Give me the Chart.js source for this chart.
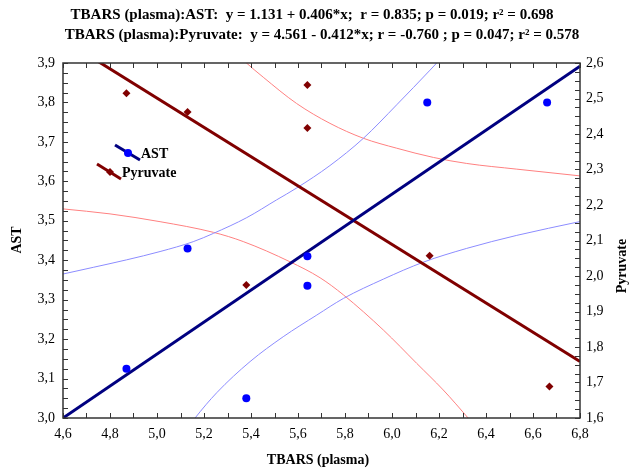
<!DOCTYPE html>
<html>
<head>
<meta charset="utf-8">
<script src="https://cdn.jsdelivr.net/npm/chart.js@4"></script>
<style>
  body { margin: 0; background: #fff; }
  #wrap { width: 632px; height: 471px; }
</style>
</head>
<body>
<div id="wrap"><canvas id="chart" width="632" height="471"></canvas></div>
<script>
// measured points
const tbars = [4.87, 5.13, 5.38, 5.64, 5.64, 6.15, 6.66];
const ast = [3.125, 3.43, 3.05, 3.41, 3.335, 3.80, 3.80];
const tbarsPyr = [4.87, 5.13, 5.38, 5.64, 5.64, 6.16, 6.67];
const pyruvate = [2.515, 2.462, 1.975, 2.538, 2.417, 2.057, 1.689];

// fitted lines (end points)
const fitX = [4.6, 6.8];
const astFit = [3.0, 3.892];
const pyrFit = [2.666, 1.759];

// 95% bands
const astUpX = [4.6, 4.729, 4.871, 5.013, 5.154, 5.24, 5.382, 5.509, 5.594, 5.736, 5.878, 6.02, 6.162, 6.3];
const astUpY = [3.365, 3.382, 3.401, 3.422, 3.447, 3.468, 3.508, 3.553, 3.583, 3.64, 3.709, 3.794, 3.882, 3.97];
const astLoX = [5.1, 5.162, 5.254, 5.396, 5.537, 5.68, 5.793, 5.963, 6.133, 6.318, 6.531, 6.8];
const astLoY = [2.95, 3.0, 3.064, 3.143, 3.206, 3.261, 3.303, 3.352, 3.395, 3.43, 3.463, 3.498];
const pyrUpX = [5.3, 5.374, 5.452, 5.594, 5.736, 5.878, 6.02, 6.176, 6.318, 6.531, 6.8];
const pyrUpY = [2.652, 2.604, 2.56, 2.486, 2.43, 2.388, 2.36, 2.334, 2.317, 2.301, 2.282];
const pyrLoX = [4.6, 4.8, 5.013, 5.24, 5.367, 5.566, 5.694, 5.793, 5.963, 6.105, 6.218, 6.325, 6.4];
const pyrLoY = [2.189, 2.175, 2.153, 2.123, 2.097, 2.04, 1.995, 1.947, 1.848, 1.754, 1.679, 1.599, 1.54];

const xTicks = [4.6, 4.8, 5.0, 5.2, 5.4, 5.6, 5.8, 6.0, 6.2, 6.4, 6.6, 6.8];
const astTicks = [3.0, 3.1, 3.2, 3.3, 3.4, 3.5, 3.6, 3.7, 3.8, 3.9];
const pyrTicks = [1.6, 1.7, 1.8, 1.9, 2.0, 2.1, 2.2, 2.3, 2.4, 2.5, 2.6];

const title1 = "TBARS (plasma):AST:  y = 1.131 + 0.406*x;  r = 0.835; p = 0.019; r\u00b2 = 0.698";
const title2 = "TBARS (plasma):Pyruvate:  y = 4.561 - 0.412*x; r = -0.760 ; p = 0.047; r\u00b2 = 0.578";

const serif = "'Liberation Serif', 'DejaVu Serif', serif";
const pts = (xs, ys) => xs.map((x, i) => ({ x: x, y: ys[i] }));
const comma = v => Number(v).toFixed(1).replace(".", ",");

function band(xs, ys, color, axis) {
  return {
    data: pts(xs, ys), yAxisID: axis, showLine: true, pointRadius: 0,
    borderColor: color, borderWidth: 1, cubicInterpolationMode: "monotone", fill: false
  };
}

const decor = {
  id: "decor",
  afterDraw(chart) {
    const ctx = chart.ctx;
    const a = chart.chartArea;
    const sx = chart.scales.x, sl = chart.scales.y, sr = chart.scales.y2;
    ctx.save();
    ctx.strokeStyle = "#333";
    ctx.lineWidth = 1.5;
    ctx.strokeRect(a.left, a.top, a.right - a.left, a.bottom - a.top);
    ctx.lineWidth = 1;
    ctx.beginPath();
    for (let i = 0; i <= 22; i++) {
      const p = Math.round(sx.getPixelForValue(4.6 + i * 0.1)) + 0.5;
      ctx.moveTo(p, a.bottom); ctx.lineTo(p, a.bottom - 5);
      ctx.moveTo(p, a.top); ctx.lineTo(p, a.top + 5);
    }
    for (let i = 0; i <= 36; i++) {
      const p = Math.round(sl.getPixelForValue(3.0 + i * 0.025)) + 0.5;
      ctx.moveTo(a.left, p); ctx.lineTo(a.left + 5, p);
    }
    for (let i = 0; i <= 40; i++) {
      const p = Math.round(sr.getPixelForValue(1.6 + i * 0.025)) + 0.5;
      ctx.moveTo(a.right, p); ctx.lineTo(a.right - 5, p);
    }
    ctx.stroke();

    ctx.fillStyle = "#000";
    ctx.textAlign = "center";
    ctx.textBaseline = "middle";
    ctx.font = "bold 15px " + serif;
    ctx.fillText(title1, 312, 15);
    ctx.fillText(title2, 322, 35);
    ctx.font = "bold 14px " + serif;
    ctx.fillText("TBARS (plasma)", 318, 460);

    ctx.save();
    ctx.translate(17, 240);
    ctx.rotate(-Math.PI / 2);
    ctx.fillText("AST", 0, 0);
    ctx.restore();
    ctx.save();
    ctx.translate(622, 266);
    ctx.rotate(-Math.PI / 2);
    ctx.fillText("Pyruvate", 0, 0);
    ctx.restore();

    // legend
    ctx.lineWidth = 3;
    ctx.strokeStyle = "#000080";
    ctx.beginPath(); ctx.moveTo(115, 145); ctx.lineTo(140, 160); ctx.stroke();
    ctx.fillStyle = "#0000ff";
    ctx.beginPath(); ctx.arc(128, 153, 4, 0, Math.PI * 2); ctx.fill();
    ctx.strokeStyle = "#800000";
    ctx.beginPath(); ctx.moveTo(97, 164); ctx.lineTo(121, 179); ctx.stroke();
    ctx.fillStyle = "#800000";
    ctx.beginPath();
    ctx.moveTo(110, 168); ctx.lineTo(114, 172); ctx.lineTo(110, 176); ctx.lineTo(106, 172);
    ctx.closePath(); ctx.fill();
    ctx.fillStyle = "#000";
    ctx.textAlign = "left";
    ctx.fillText("AST", 141, 154);
    ctx.fillText("Pyruvate", 122, 173);
    ctx.restore();
  }
};

new Chart(document.getElementById("chart"), {
  type: "scatter",
  data: {
    datasets: [
      { data: pts(tbars, ast), yAxisID: "y", backgroundColor: "#0000ff", borderWidth: 0,
        pointRadius: 4, pointStyle: "circle" },
      { data: pts(tbarsPyr, pyruvate), yAxisID: "y2", backgroundColor: "#800000", borderWidth: 0,
        pointRadius: 4, pointStyle: "rectRot" },
      { data: pts(fitX, astFit), yAxisID: "y", showLine: true, pointRadius: 0,
        borderColor: "#000080", borderWidth: 3 },
      { data: pts(fitX, pyrFit), yAxisID: "y2", showLine: true, pointRadius: 0,
        borderColor: "#800000", borderWidth: 3 },
      band(astUpX, astUpY, "#8c8cff", "y"),
      band(astLoX, astLoY, "#8c8cff", "y"),
      band(pyrUpX, pyrUpY, "#ff8080", "y2"),
      band(pyrLoX, pyrLoY, "#ff8080", "y2")
    ]
  },
  options: {
    responsive: false,
    animation: false,
    layout: { padding: { top: 63, left: 0, right: 0, bottom: 0 } },
    plugins: { legend: { display: false }, tooltip: { enabled: false } },
    scales: {
      x: {
        type: "linear", min: 4.6, max: 6.8,
        afterBuildTicks: s => { s.ticks = xTicks.map(v => ({ value: v })); },
        afterFit: s => { s.height = 53; },
        grid: { display: false, drawTicks: false }, border: { display: false },
        ticks: { callback: comma, padding: 8, color: "#000", font: { family: serif, size: 14 } }
      },
      y: {
        position: "left", min: 3.0, max: 3.9,
        afterBuildTicks: s => { s.ticks = astTicks.map(v => ({ value: v })); },
        afterFit: s => { s.width = 63; },
        grid: { display: false, drawTicks: false }, border: { display: false },
        ticks: { callback: comma, padding: 8, color: "#000", font: { family: serif, size: 14 } }
      },
      y2: {
        position: "right", min: 1.6, max: 2.6,
        afterBuildTicks: s => { s.ticks = pyrTicks.map(v => ({ value: v })); },
        afterFit: s => { s.width = 52; },
        grid: { display: false, drawTicks: false }, border: { display: false },
        ticks: { callback: comma, padding: 6, color: "#000", font: { family: serif, size: 14 } }
      }
    }
  },
  plugins: [decor]
});
</script>
</body>
</html>
